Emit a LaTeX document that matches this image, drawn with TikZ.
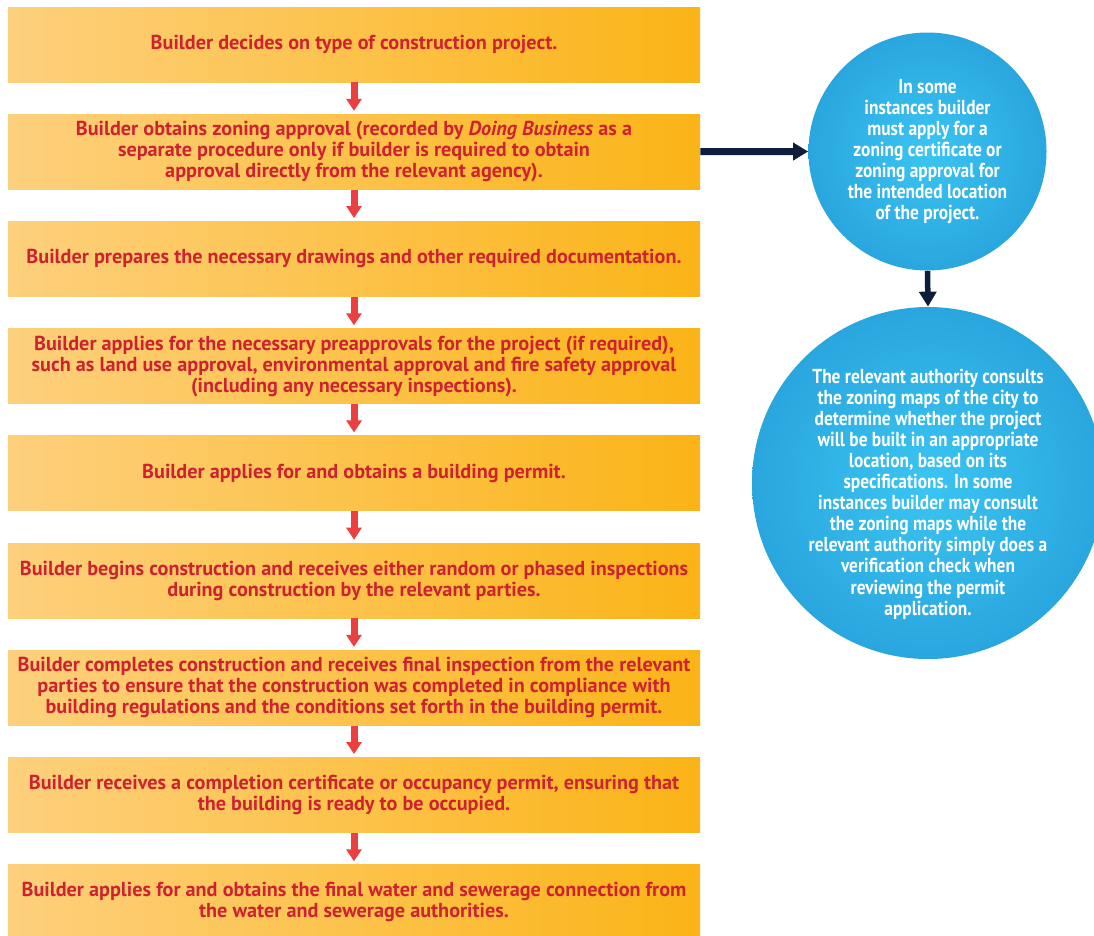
\documentclass[tikz,border=0pt]{standalone}
\usepackage{fontspec}
\setmainfont{PT Sans}
\newfontfamily\notefont{PT Sans}[FakeStretch=0.86]
\usetikzlibrary{arrows.meta,positioning,calc}
\definecolor{boxlight}{HTML}{FDD07D}
\definecolor{boxmid}{HTML}{FEDC96}
\definecolor{boxdark}{HTML}{FBB417}
\definecolor{steptext}{HTML}{CF2230}
\definecolor{arrowred}{HTML}{EC4040}
\definecolor{navy}{HTML}{0C1E3B}
\definecolor{circin}{HTML}{3AC5F2}
\definecolor{circout}{HTML}{2AA6DE}
\tikzset{
  stepbox/.style={left color=boxlight, middle color=boxmid, right color=boxdark,
    minimum width=13.84cm, minimum height=1.5cm, align=center, inner sep=2pt,
    font=\bfseries\fontsize{11.5}{12}\selectfont, text=steptext},
  notecirc/.style={circle, inner color=circin, outer color=circout, align=center,
    inner sep=0pt, font=\notefont\bfseries\fontsize{11.5}{12}\selectfont, text=white},
  notetext/.style={align=center, inner sep=0pt,
    font=\notefont\bfseries\fontsize{11.5}{12}\selectfont, text=white},
  flowedge/.style={-{Triangle[width=0.3cm, length=0.24cm]}, line width=0.14cm,
    draw=arrowred, shorten >=0.06cm},
  sideedge/.style={-{Triangle[width=0.34cm, length=0.3cm]}, line width=0.14cm,
    draw=navy},
}
\newcommand{\steparrow}[2]{\draw[flowedge] (#1.south) -- (#2.north);}

\begin{document}
\begin{tikzpicture}[node distance=0.63cm]

  \useasboundingbox (0,0) rectangle (21.88,-18.70);

  \node[stepbox] (b1) at (7.08,-0.89) {Builder decides on type of construction project.};
  \node[stepbox, below=of b1] (b2) {Builder obtains zoning approval (recorded by \textit{Doing Business} as a\\
    separate procedure only if builder is required to obtain\\
    approval directly from the relevant agency).};
  \node[stepbox, below=of b2] (b3) {Builder prepares the necessary drawings and other required documentation.};
  \node[stepbox, below=of b3] (b4) {Builder applies for the necessary preapprovals for the project (if required),\\
    such as land use approval, environmental approval and fire safety approval\\
    (including any necessary inspections).};
  \node[stepbox, below=of b4] (b5) {Builder applies for and obtains a building permit.};
  \node[stepbox, below=of b5] (b6) {Builder begins construction and receives either random or phased inspections\\
    during construction by the relevant parties.};
  \node[stepbox, below=of b6] (b7) {Builder completes construction and receives final inspection from the relevant\\
    parties to ensure that the construction was completed in compliance with\\
    building regulations and the conditions set forth in the building permit.};
  \node[stepbox, below=of b7] (b8) {Builder receives a completion certificate or occupancy permit, ensuring that\\
    the building is ready to be occupied.};
  \node[stepbox, below=of b8] (b9) {Builder applies for and obtains the final water and sewerage connection from\\
    the water and sewerage authorities.};

  \steparrow{b1}{b2}
  \steparrow{b2}{b3}
  \steparrow{b3}{b4}
  \steparrow{b4}{b5}
  \steparrow{b5}{b6}
  \steparrow{b6}{b7}
  \steparrow{b7}{b8}
  \steparrow{b8}{b9}

  % side notes on zoning
  \node[notecirc, minimum size=4.76cm] (c1) at (18.55,-3.03) {In some\\ instances builder\\
    must apply for a\\ zoning certificate or\\ zoning approval for\\
    the intended location\\ of the project.};
  \node[notecirc, minimum size=7.04cm] (c2) at (18.56,-9.66) {};
  \node[notetext] (c2text) at ($(c2.center)+(0,-0.22)$) {The relevant authority consults\\
    the zoning maps of the city to\\ determine whether the project\\
    will be built in an appropriate\\ location, based on its\\
    specifications. In some\\ instances builder may consult\\
    the zoning maps while the\\ relevant authority simply does a\\
    verification check when\\ reviewing the permit\\ application.};

  \draw[sideedge] (b2.east) -- (c1.west);
  \draw[sideedge, line width=0.11cm] (c1.south) -- (c2.north);

\end{tikzpicture}
\end{document}
